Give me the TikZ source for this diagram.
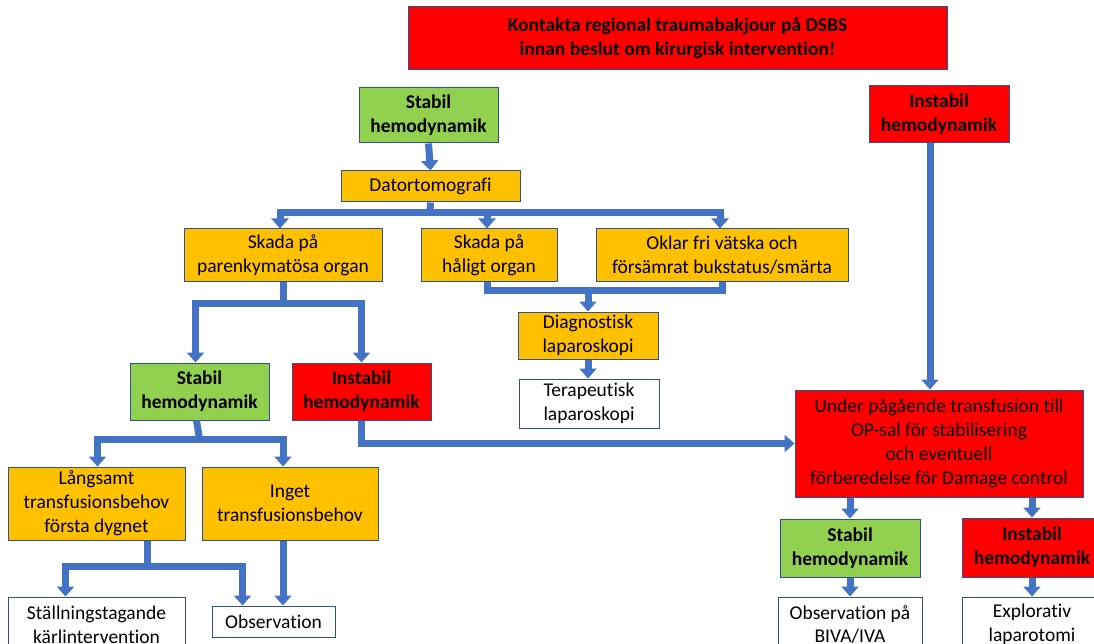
\documentclass[tikz,border=0pt]{standalone}
\usepackage{fontspec}
\setmainfont[Ligatures=NoCommon]{Carlito}
\usetikzlibrary{arrows.meta}
\definecolor{flowblue}{HTML}{4472C4}
\definecolor{boxline}{HTML}{2F528F}
\definecolor{boxred}{HTML}{FF0000}
\definecolor{boxgreen}{HTML}{92D050}
\definecolor{boxorange}{HTML}{FFC000}
\begin{document}
\begin{tikzpicture}[
		x=1pt, y=-1pt,
		box/.style={draw=boxline, line width=1pt, align=center, inner sep=0pt, font=\fontsize{19.5}{24}\selectfont},
		redbox/.style={box, fill=boxred, font=\fontsize{19.5}{24}\selectfont\bfseries},
		grnbox/.style={box, fill=boxgreen, font=\fontsize{19.5}{24}\selectfont\bfseries},
		orgbox/.style={box, fill=boxorange},
		whtbox/.style={box, fill=white},
		link/.style={draw=flowblue, line width=7pt},
		flow/.style={link, -{Triangle[width=17pt,length=10pt]}}
	]
	\useasboundingbox (0,0) rectangle (1094,644);

	\node[redbox, minimum width=539pt, minimum height=63pt] (kontakt) at (677.5,38.5)
		{Kontakta regional traumabakjour på DSBS\\innan beslut om kirurgisk intervention!};

	\node[grnbox, minimum width=139pt, minimum height=55pt] (stab0) at (428.5,115.5) {Stabil\\hemodynamik};
	\node[redbox, minimum width=140pt, minimum height=57pt] (inst0) at (939,114.5) {Instabil\\hemodynamik};
	\node[orgbox, minimum width=179pt, minimum height=31pt] (dato) at (430.5,186.5) {Datortomografi};

	\node[orgbox, minimum width=198pt, minimum height=52pt] (parenk) at (283,255) {Skada på\\parenkymatösa organ};
	\node[orgbox, minimum width=136pt, minimum height=52pt] (halig) at (489,255) {Skada på\\håligt organ};
	\node[orgbox, minimum width=252pt, minimum height=52pt] (oklar) at (722,255) {Oklar fri vätska och\\försämrat bukstatus/smärta};

	\node[orgbox, minimum width=140pt, minimum height=47pt] (diag) at (588,335.5) {Diagnostisk\\laparoskopi};
	\node[whtbox, minimum width=140pt, minimum height=49pt] (terap) at (589,403.5) {Terapeutisk\\laparoskopi};

	\node[grnbox, minimum width=139pt, minimum height=57pt] (stab1) at (199.5,391.5) {Stabil\\hemodynamik};
	\node[redbox, minimum width=139pt, minimum height=57pt] (inst1) at (361.5,391.5) {Instabil\\hemodynamik};

	\node[redbox, font=\fontsize{19.5}{24}\selectfont, minimum width=288pt, minimum height=107pt] (under) at (939,443.5)
		{Under pågående transfusion till\\OP-sal för stabilisering\\och eventuell\\förberedelse för Damage control};

	\node[orgbox, minimum width=177pt, minimum height=73pt] (lang) at (96.5,503.5) {Långsamt\\transfusionsbehov\\första dygnet};
	\node[orgbox, minimum width=176pt, minimum height=73pt] (inget) at (290,503.5) {Inget\\transfusionsbehov};

	\node[whtbox, minimum width=177pt, minimum height=55pt] (stall) at (96.5,624.5) {Ställningstagande\\kärlintervention};
	\node[whtbox, minimum width=123pt, minimum height=31pt] (obs) at (273.5,621.5) {Observation};

	\node[grnbox, minimum width=140pt, minimum height=58pt] (stab2) at (850,548) {Stabil\\hemodynamik};
	\node[redbox, minimum width=140pt, minimum height=59pt] (inst2) at (1032,547.5) {Instabil\\hemodynamik};
	\node[whtbox, minimum width=144pt, minimum height=55pt] (obsp) at (850,624.5) {Observation på\\BIVA/IVA};
	\node[whtbox, minimum width=140pt, minimum height=55pt] (expl) at (1032,624.5) {Explorativ\\laparotomi};

	\coordinate (j1) at (430,213);
	\coordinate (j2) at (588,290);
	\coordinate (j3) at (283,303);
	\coordinate (j4) at (199.5,439);
	\coordinate (j5) at (147,566);

	\draw[flow] (stab0.south) -- (dato.north);
	\draw[link] (dato.south) -- (j1);
	\draw[flow] (j1) -| ([xshift=-3pt]parenk.north);
	\draw[flow] (j1) -| ([xshift=-2pt]halig.north);
	\draw[flow] (j1) -| ([xshift=-2pt]oklar.north);

	\draw[link] ([xshift=-2pt]halig.south) |- (j2);
	\draw[link] (oklar.south) |- (j2);
	\draw[flow] (j2) -- (diag.north);
	\draw[flow] (diag.south) -- (terap.north -| diag.south);

	\draw[link] (parenk.south) -- (j3);
	\draw[flow] (j3) -| ([xshift=-4pt]stab1.north);
	\draw[flow] (j3) -| (inst1.north);

	\draw[link] ([xshift=-3pt]stab1.south) -- (j4);
	\draw[flow] (j4) -| ([xshift=1pt]lang.north);
	\draw[flow] (j4) -| ([xshift=-7pt]inget.north);
	\draw[flow] (inst1.south) |- (under.west);
	\draw[flow] ([xshift=-9pt]inst0.south) -- ([xshift=-9pt]under.north);

	\draw[link] (j5 |- lang.south) -- (j5);
	\draw[flow] (j5) -| ([xshift=-31pt]stall.north);
	\draw[flow] (j5) -| ([xshift=-31pt]obs.north);
	\draw[flow] ([xshift=-7pt]inget.south) -- ([xshift=-7pt]inget.south |- obs.north);

	\draw[flow] (under.south -| stab2.north) -- (stab2.north);
	\draw[flow] (under.south -| inst2.north) -- (inst2.north);
	\draw[flow] (stab2.south) -- (obsp.north);
	\draw[flow] (inst2.south) -- (expl.north);
\end{tikzpicture}
\end{document}
